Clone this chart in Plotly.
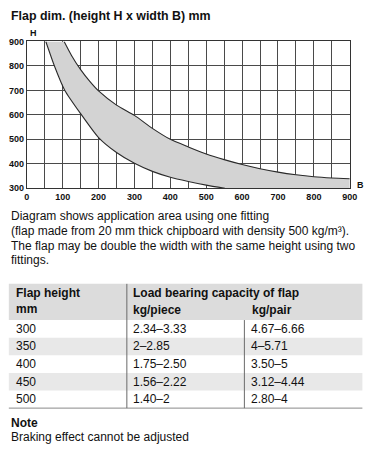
import plotly.graph_objects as go

# ---- data ----
upper_B = [104, 125, 150, 175, 200, 250, 300, 350, 400, 450, 500, 550, 600, 650, 700, 750, 800, 850, 900]
upper_H = [900, 842, 785, 738, 698, 640, 598, 545, 500, 469, 440, 417, 397, 380, 366, 355, 347, 342, 339]
lower_B = [53, 77, 106, 150, 200, 250, 300, 350, 400, 450, 500, 552]
lower_H = [900, 800, 700, 605, 507, 446, 402, 369, 345, 328, 313, 300]
x_grid = [0, 50, 100, 150, 200, 250, 300, 350, 400, 450, 500, 550, 600, 650, 700, 750, 800, 850, 900]
x_labels = ["0", "", "100", "", "200", "", "300", "", "400", "", "500", "", "600", "", "700", "", "800", "", "900"]
y_ticks = [300, 400, 500, 600, 700, 800, 900]
X_RANGE = [0, 900]
Y_RANGE = [300, 900]

title_text = "Flap dim. (height H x width B) mm"
para_lines = [
    "Diagram shows application area using one fitting",
    "(flap made from 20 mm thick chipboard with density 500 kg/m³).",
    "The flap may be double the width with the same height using two",
    "fittings.",
]
col_header_1 = ["Flap height", "mm"]
col_header_2 = "Load bearing capacity of flap"
sub_headers = ["kg/piece", "kg/pair"]
flap_heights = ["300", "350", "400", "450", "500"]
kg_piece = ["2.34–3.33", "2–2.85", "1.75–2.50", "1.56–2.22", "1.40–2"]
kg_pair = ["4.67–6.66", "4–5.71", "3.50–5", "3.12–4.44", "2.80–4"]
note_title = "Note"
note_text = "Braking effect cannot be adjusted"

W, H = 384, 464
FONT = "Liberation Sans, Arial, Helvetica, sans-serif"


def py(p):
    return 1 - p / H


def px(p):
    return p / W


fig = go.Figure()

# band polygon: upper curve, right/bottom edge, lower curve reversed
poly_x = upper_B + [X_RANGE[1], lower_B[-1]] + lower_B[::-1]
poly_y = upper_H + [Y_RANGE[0], Y_RANGE[0]] + lower_H[::-1]
fig.add_trace(go.Scatter(x=poly_x, y=poly_y, mode="lines", fill="toself",
                         fillcolor="#d3d3d3", line=dict(width=0),
                         hoverinfo="skip", showlegend=False))
fig.add_trace(go.Scatter(x=upper_B, y=upper_H, mode="lines",
                         line=dict(color="#2a2a2a", width=1.1, shape="spline", smoothing=0.6),
                         showlegend=False))
fig.add_trace(go.Scatter(x=lower_B, y=lower_H, mode="lines",
                         line=dict(color="#2a2a2a", width=1.1, shape="spline", smoothing=0.6),
                         showlegend=False))

x0, x1 = 24.5, 357
y0, y1 = 37.3, 187.3
grid_c = "#4a4a4a"
fig.update_layout(
    width=W, height=H, margin=dict(l=0, r=0, t=0, b=0),
    paper_bgcolor="white", plot_bgcolor="white",
    font=dict(family=FONT, color="#111"),
    xaxis=dict(domain=[px(x0), px(x1)], range=X_RANGE, tickmode="array",
               tickvals=x_grid, ticktext=x_labels,
               showgrid=True, gridcolor=grid_c, gridwidth=1,
               showline=True, linecolor="#333", linewidth=1, mirror=True,
               zeroline=False, ticks="", tickfont=dict(size=9, family=FONT, weight="bold"),
               anchor="y", fixedrange=True),
    yaxis=dict(domain=[py(y1), py(y0)], range=Y_RANGE, tickmode="array", tickvals=y_ticks,
               showgrid=True, gridcolor=grid_c, gridwidth=1,
               showline=True, linecolor="#333", linewidth=1, mirror=True,
               zeroline=False, ticks="", tickfont=dict(size=9, family=FONT, weight="bold"),
               anchor="x", fixedrange=True),
)

ann = []


def text(x, y, s, size=12, bold=False, anchor="left"):
    ann.append(dict(x=px(x), y=py(y), xref="paper", yref="paper", text=s,
                    showarrow=False, xanchor=anchor, yanchor="middle",
                    font=dict(size=size, family=FONT, color="#111",
                              weight="bold" if bold else "normal")))


text(6, 11, title_text, 12.4, True)
text(26, 29, "H", 9, True)
text(362, 184, "B", 9, True)

for i, line in enumerate(para_lines):
    text(6, 216 + 15 * i, line, 12)

shapes = []
shapes.append(dict(type="rect", xref="paper", yref="paper", x0=px(6), x1=px(370),
                   y0=py(285), y1=py(322), fillcolor="#dcdcdc", line=dict(width=0)))
row_top = 322
row_h = 18
for i in range(len(flap_heights)):
    if i % 2 == 1:
        shapes.append(dict(type="rect", xref="paper", yref="paper", x0=px(6), x1=px(370),
                           y0=py(row_top + i * row_h), y1=py(row_top + (i + 1) * row_h),
                           fillcolor="#e8e8e8", line=dict(width=0)))
table_bottom = row_top + len(flap_heights) * row_h
shapes.append(dict(type="line", xref="paper", yref="paper", x0=px(6), x1=px(370),
                   y0=py(table_bottom), y1=py(table_bottom), line=dict(color="#8a8a8a", width=1)))
shapes.append(dict(type="line", xref="paper", yref="paper", x0=px(127.5), x1=px(127.5),
                   y0=py(285), y1=py(table_bottom), line=dict(color="#6a6a6a", width=1)))
shapes.append(dict(type="line", xref="paper", yref="paper", x0=px(248.5), x1=px(248.5),
                   y0=py(322), y1=py(table_bottom), line=dict(color="#6a6a6a", width=1)))

text(11, 294, col_header_1[0], 12, True)
text(11, 311, col_header_1[1], 12, True)
text(132, 294, col_header_2, 12, True)
text(132, 312, sub_headers[0], 12, True)
text(254, 312, sub_headers[1], 12, True)
for i in range(len(flap_heights)):
    yc = row_top + i * row_h + row_h / 2
    text(11, yc, flap_heights[i], 12)
    text(132, yc, kg_piece[i], 12)
    text(253, yc, kg_pair[i], 12)

text(6, 427, note_title, 12, True)
text(6, 442, note_text, 12)

fig.update_layout(annotations=ann, shapes=shapes)
fig.write_html("out.html", config={"displayModeBar": False},
               post_script="document.body.style.margin='0px';document.body.style.overflow='hidden';")
